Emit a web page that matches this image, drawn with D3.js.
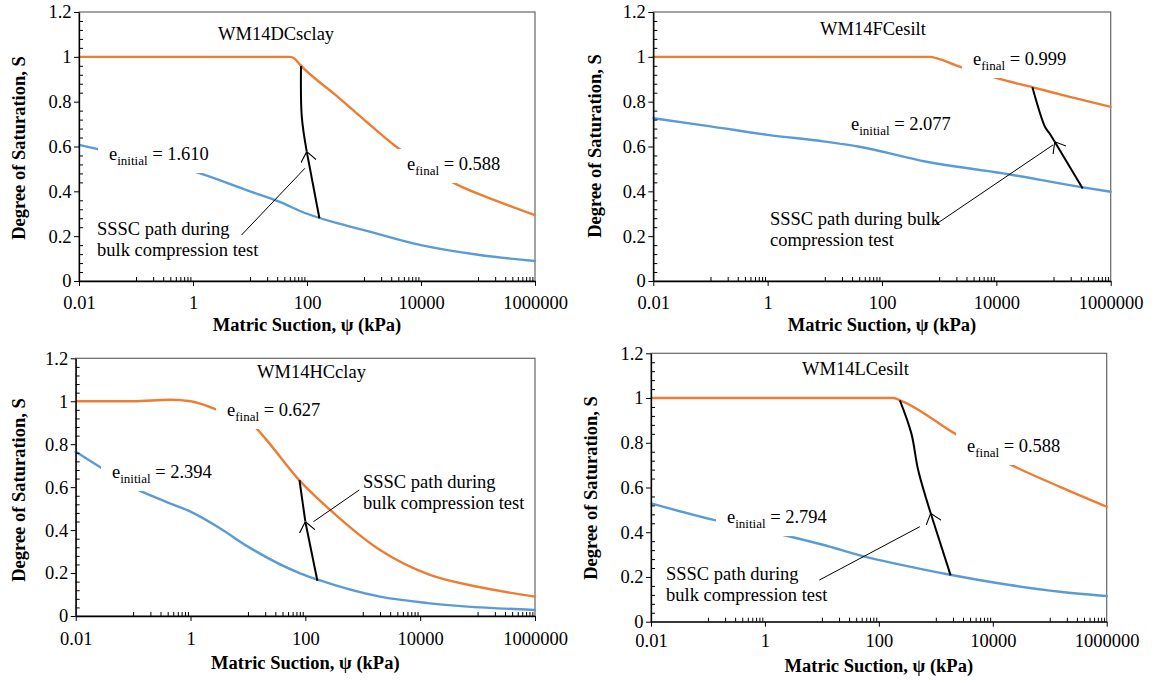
<!DOCTYPE html>
<html><head><meta charset="utf-8">
<script src="https://cdn.jsdelivr.net/npm/d3@7"></script>
<style>
body{margin:0;background:#fff}
svg{display:block}
svg text{font-family:"Liberation Serif","Times New Roman",serif !important;fill:#000}
</style>
</head><body>
<svg id="chart" width="1155" height="683"></svg>
<script>
// ---------------- data ----------------
const panelTitles = ["WM14DCsclay", "WM14FCesilt", "WM14HCclay", "WM14LCesilt"];
const initialVoidRatios = ["1.610", "2.077", "2.394", "2.794"];
const finalVoidRatios = ["0.588", "0.999", "0.627", "0.588"];
const pathLabelLines = ["SSSC path during", "bulk compression test"];
const pathLabelLinesFC = ["SSSC path during bulk", "compression test"];

const xTickValues = [0.01, 1, 100, 10000, 1000000];
const xTickLabels = ["0.01", "1", "100", "10000", "1000000"];
const xMinorTickValues = [0.1,0.2,0.3,0.4,0.5,0.6,0.7,0.8,0.9,
  10,20,30,40,50,60,70,80,90,
  1000,2000,3000,4000,5000,6000,7000,8000,9000,
  100000,200000,300000,400000,500000,600000,700000,800000,900000];
const yTickValues = [0, 0.2, 0.4, 0.6, 0.8, 1, 1.2];
const yTickLabels = ["0", "0.2", "0.4", "0.6", "0.8", "1", "1.2"];
const yMinorTickValues = [0.04,0.08,0.12,0.16,0.24,0.28,0.32,0.36,0.44,0.48,0.52,0.56,
  0.64,0.68,0.72,0.76,0.84,0.88,0.92,0.96,1.04,1.08,1.12,1.16];

// [matric suction (kPa), degree of saturation]
const dcFinal = [[0.01,1],[50,1],[60,0.993],[76,0.964],[316,0.83],[1000,0.72],[3630,0.6],[44700,0.428],[200000,0.36],[1000000,0.294]];
const dcInitial = [[0.01,0.607],[0.1,0.55],[1,0.49],[10,0.40],[31.6,0.355],[100,0.30],[316,0.26],[1000,0.227],[10000,0.16],[100000,0.117],[1000000,0.089]];
const dcPath = [[165,0.28],[99,0.577],[81,0.733],[78.5,0.959]];
const dcLeader = [[7.1,0.205],[92,0.503]];

const fcFinal = [[0.01,1],[650,1],[2290,0.956],[13200,0.897],[43700,0.864],[200000,0.82],[1000000,0.777]];
const fcInitial = [[0.01,0.726],[0.1,0.69],[1,0.652],[10,0.622],[40,0.599],[600,0.532],[13200,0.48],[288000,0.42],[1000000,0.398]];
const fcPath = [[324000,0.413],[105000,0.621],[85000,0.659],[70800,0.688],[42700,0.864]];
const fcLeader = [[841,0.25],[98000,0.607]];

const hcFinal = [[0.01,1],[0.1,1],[0.45,1.007],[1,1.0],[3.2,0.956],[14,0.874],[21,0.82],[81,0.628],[270,0.494],[2000,0.307],[14800,0.191],[100000,0.136],[1000000,0.09]];
const hcInitial = [[0.01,0.765],[0.026,0.695],[0.123,0.587],[0.35,0.535],[1,0.486],[3.2,0.41],[10,0.323],[81,0.199],[170,0.168],[2000,0.09],[14800,0.059],[1000000,0.028]];
const hcPath = [[162,0.164],[100,0.439],[79,0.633]];
const hcLeader = [[138,0.439],[871,0.587]];

const lcFinal = [[0.01,1],[178,1],[234,0.99],[2140,0.842],[21400,0.70],[151000,0.603],[1000000,0.514]];
const lcInitial = [[0.01,0.529],[0.126,0.455],[1.95,0.39],[10,0.345],[69,0.285],[178,0.262],[1780,0.21],[20000,0.164],[151000,0.134],[1000000,0.115]];
const lcPath = [[1820,0.207],[813,0.485],[490,0.678],[372,0.842],[234,0.99]];
const lcLeader = [[9.0,0.186],[525,0.425]];

const finalCurves = [dcFinal, fcFinal, hcFinal, lcFinal];
const initialCurves = [dcInitial, fcInitial, hcInitial, lcInitial];
const sssPaths = [dcPath, fcPath, hcPath, lcPath];
const leaders = [dcLeader, fcLeader, hcLeader, lcLeader];
const pathLabels = [pathLabelLines, pathLabelLinesFC, pathLabelLines, pathLabelLines];

// ---------------- layout (pixels) ----------------
const layout = [
  {l:79,  t:12,   r:535,   b:281,   xPad:10, xTitleY:331, yTitleX:25,  yTitleY:148,
   title:[218,40], eInit:[109,160], eFinal:[407,170], sssc:[97,235]},
  {l:653.3, t:12, r:1110.7, b:281,  xPad:10, xTitleY:331, yTitleX:601, yTitleY:146,
   title:[820,35], eInit:[851,130], eFinal:[973,65], sssc:[770,225]},
  {l:75.7, t:358.3, r:535, b:616,   xPad:11, xTitleY:669, yTitleX:25,  yTitleY:490,
   title:[257,378], eInit:[112,478], eFinal:[227,416], sssc:[363,488]},
  {l:651, t:353.3, r:1106.7, b:621.7, xPad:7.5, xTitleY:672, yTitleX:597, yTitleY:488,
   title:[802,375], eInit:[727,523], eFinal:[967,452], sssc:[666,580]}
];
const FONT = '"Liberation Serif","Times New Roman",serif';
const FS = 18.5, SUB = 13;
const ORANGE = "#ED7D31", BLUE = "#5B9BD5";

const svg = d3.select("#chart");
svg.append("rect").attr("width",1155).attr("height",683).attr("fill","#fff");
const defs = svg.append("defs");
defs.append("marker").attr("id","arrow")
  .attr("viewBox","0 0 10 16").attr("refX",10).attr("refY",8)
  .attr("markerWidth",10).attr("markerHeight",16)
  .attr("markerUnits","userSpaceOnUse").attr("orient","auto")
  .append("path").attr("d","M0,0 L10,8 L0,16")
  .attr("fill","none").attr("stroke","#000").attr("stroke-width",1.1);

function boxedLabel(g, pos, sub, val) {
  const t = g.append("text").attr("x",pos[0]).attr("y",pos[1]).style("font-size",FS+"px");
  t.append("tspan").text("e");
  t.append("tspan").style("font-size",SUB+"px").attr("dy",5).text(sub);
  t.append("tspan").attr("dy",-5).text(" = " + val);
  const bb = t.node().getBBox();
  g.insert("rect", () => t.node())
    .attr("x", bb.x - 11).attr("y", bb.y - 5)
    .attr("width", bb.width + 19).attr("height", bb.height + 10)
    .attr("fill","#fff");
}

layout.forEach((L, i) => {
  const x = d3.scaleLog().domain([0.01, 1000000]).range([L.l, L.r]);
  const y = d3.scaleLinear().domain([0, 1.2]).range([L.b, L.t]);
  const g = svg.append("g");

  // frame
  g.append("rect").attr("x",L.l).attr("y",L.t).attr("width",L.r-L.l).attr("height",L.b-L.t)
    .attr("fill","none").attr("stroke","#666").attr("stroke-width",1.2);

  const smooth = d3.line().x(d => x(d[0])).y(d => y(d[1])).curve(d3.curveMonotoneX);
  const straight = d3.line().x(d => x(d[0])).y(d => y(d[1])).curve(d3.curveCatmullRom.alpha(0.5));

  g.append("path").attr("d", smooth(initialCurves[i])).attr("fill","none")
    .attr("stroke",BLUE).attr("stroke-width",2.4).attr("stroke-linecap","round");
  g.append("path").attr("d", smooth(finalCurves[i])).attr("fill","none")
    .attr("stroke",ORANGE).attr("stroke-width",2.4).attr("stroke-linecap","round");

  // SSSC path (with direction arrow at second point)
  const p = sssPaths[i];
  g.append("path").attr("d", straight(p.slice(0,2))).attr("fill","none")
    .attr("stroke","#000").attr("stroke-width",2).attr("marker-end","url(#arrow)");
  g.append("path").attr("d", straight(p.slice(1))).attr("fill","none")
    .attr("stroke","#000").attr("stroke-width",2);

  // leader line
  g.append("path").attr("d", d3.line().x(d => x(d[0])).y(d => y(d[1]))(leaders[i]))
    .attr("fill","none").attr("stroke","#000").attr("stroke-width",1);

  // labels
  boxedLabel(g, L.eInit, "initial", initialVoidRatios[i]);
  boxedLabel(g, L.eFinal, "final", finalVoidRatios[i]);
  g.append("text").attr("x",L.title[0]).attr("y",L.title[1]).style("font-size",FS+"px").text(panelTitles[i]);
  pathLabels[i].forEach((s, k) => {
    g.append("text").attr("x",L.sssc[0]).attr("y",L.sssc[1] + k*20.5).style("font-size",FS+"px").text(s);
  });

  // axes
  const xa = g.append("g").attr("transform",`translate(0,${L.b})`)
    .call(d3.axisBottom(x).tickValues(xTickValues)
      .tickFormat(d => xTickLabels[xTickValues.indexOf(d)])
      .tickSizeInner(5).tickSizeOuter(0).tickPadding(L.xPad));
  const xm = g.append("g").attr("transform",`translate(0,${L.b})`)
    .call(d3.axisBottom(x).tickValues(xMinorTickValues).tickFormat("")
      .tickSizeInner(-4).tickSizeOuter(0));
  xm.select(".domain").remove();
  const ya = g.append("g").attr("transform",`translate(${L.l},0)`)
    .call(d3.axisLeft(y).tickValues(yTickValues)
      .tickFormat(d => yTickLabels[yTickValues.indexOf(d)])
      .tickSizeInner(5).tickSizeOuter(0).tickPadding(2.5));
  const ym = g.append("g").attr("transform",`translate(${L.l},0)`)
    .call(d3.axisLeft(y).tickValues(yMinorTickValues).tickFormat("")
      .tickSizeInner(-4).tickSizeOuter(0));
  ym.select(".domain").remove();
  [xa, ya, xm, ym].forEach(a => {
    a.attr("font-family", FONT).attr("font-size", FS);
    a.selectAll("text").style("font-family", FONT).style("font-size", FS+"px").attr("fill","#000");
    a.selectAll("line").attr("stroke","#000").attr("stroke-width",1);
    a.selectAll(".domain").attr("stroke","#000").attr("stroke-width",1.3);
  });

  // axis titles
  const xt = g.append("text").attr("x",(L.l+L.r)/2).attr("y",L.xTitleY)
    .attr("text-anchor","middle").style("font-size",FS+"px").attr("font-weight","bold");
  xt.append("tspan").text("Matric Suction, ");
  xt.append("tspan").text("ψ");
  xt.append("tspan").text(" (kPa)");
  g.append("text").attr("transform",`translate(${L.yTitleX},${L.yTitleY}) rotate(-90)`)
    .attr("text-anchor","middle").style("font-size",FS+"px").attr("font-weight","bold")
    .text("Degree of Saturation, S");
});
</script>
</body></html>
